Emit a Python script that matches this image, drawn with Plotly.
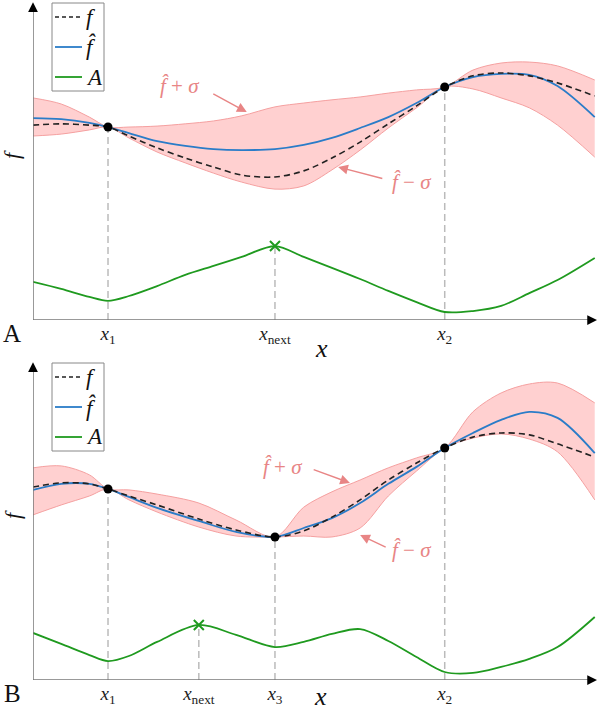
import plotly.graph_objects as go

# ---------------- Panel A data (x in [0,10], y in [0,10]) ----------------
x_A = [0, 0.5, 1.0, 1.33, 1.7, 2.2, 2.7, 3.2, 3.7, 4.29, 4.8, 5.3, 5.8, 6.3, 6.8, 7.30, 7.8, 8.3, 8.8, 9.3, 9.96]
f_A = [6.09, 6.13, 6.09, 6.03, 5.75, 5.38, 5.06, 4.78, 4.53, 4.47, 4.66, 5.06, 5.56, 6.13, 6.69, 7.28, 7.63, 7.72, 7.63, 7.41, 7.00]
fhat_A = [6.31, 6.28, 6.16, 6.03, 5.84, 5.59, 5.44, 5.34, 5.31, 5.34, 5.47, 5.69, 6.00, 6.34, 6.78, 7.28, 7.59, 7.69, 7.66, 7.31, 6.34]
upper_A = [6.94, 6.75, 6.34, 6.03, 6.03, 6.06, 6.13, 6.22, 6.38, 6.66, 6.78, 6.88, 6.97, 7.09, 7.19, 7.28, 7.81, 8.03, 8.06, 7.94, 7.50]
lower_A = [5.75, 5.81, 5.94, 6.03, 5.69, 5.25, 4.91, 4.59, 4.31, 4.09, 4.19, 4.69, 5.31, 6.00, 6.63, 7.28, 7.22, 6.94, 6.63, 6.09, 5.09]
acq_A = [1.19, 0.97, 0.72, 0.60, 0.75, 1.06, 1.41, 1.69, 1.97, 2.31, 1.97, 1.63, 1.28, 0.91, 0.56, 0.25, 0.28, 0.44, 0.84, 1.25, 1.94]
obs_x_A = [1.33, 7.30]
obs_y_A = [6.03, 7.28]
obs_lbl_A = ["<i>x</i><sub>1</sub>", "<i>x</i><sub>2</sub>"]
next_x_A = 4.29
next_y_A = 2.31

# ---------------- Panel B data ----------------
x_B = [0, 0.5, 1.0, 1.33, 1.7, 2.2, 2.94, 3.6, 4.29, 4.8, 5.3, 5.8, 6.3, 6.8, 7.30, 7.8, 8.3, 8.8, 9.3, 9.96]
f_B = [6.03, 6.16, 6.13, 5.97, 5.75, 5.47, 5.03, 4.69, 4.47, 4.66, 5.09, 5.63, 6.25, 6.78, 7.25, 7.59, 7.72, 7.66, 7.38, 6.97]
fhat_B = [5.94, 6.13, 6.13, 5.97, 5.72, 5.38, 4.97, 4.63, 4.47, 4.75, 5.06, 5.53, 6.13, 6.66, 7.25, 7.72, 8.13, 8.38, 8.19, 7.09]
upper_B = [6.63, 6.69, 6.41, 5.97, 5.94, 5.81, 5.53, 5.00, 4.47, 5.40, 5.88, 6.25, 6.63, 6.94, 7.25, 8.38, 8.97, 9.25, 9.28, 8.66]
lower_B = [5.16, 5.47, 5.75, 5.97, 5.63, 5.25, 4.78, 4.50, 4.47, 4.50, 4.47, 4.75, 5.75, 6.53, 7.25, 7.56, 7.69, 7.53, 7.13, 5.63]
acq_B = [1.47, 1.13, 0.78, 0.59, 0.75, 1.19, 1.72, 1.41, 1.03, 1.19, 1.44, 1.59, 1.22, 0.72, 0.25, 0.22, 0.41, 0.66, 1.03, 1.97]
obs_x_B = [1.33, 4.29, 7.30]
obs_y_B = [5.97, 4.47, 7.25]
obs_lbl_B = ["<i>x</i><sub>1</sub>", "<i>x</i><sub>3</sub>", "<i>x</i><sub>2</sub>"]
next_x_B = 2.94
next_y_B = 1.72
next_lbl = "<i>x</i><sub>next</sub>"

legend_names = ["<i>f</i>", "<i>f̂</i>", "<i>A</i>"]

SERIF = "Liberation Serif"
BLUE = "#2a7cc8"
GREEN = "#1f9a1f"
DASHC = "#222222"
BAND_LINE = "#f5a0a0"
BAND_FILL = "rgba(255,170,170,0.55)"
ANN = "#e88585"

# layout geometry (pixels)
W, H = 600, 713
ML, MR, MT, MB = 33, 3, 0, 33
PW, PH = W - ML - MR, H - MT - MB


def px(x):
    return (x - ML) / PW


def py(y):
    return (H - MB - y) / PH


fig = go.Figure()


def add_panel(xs, f, fhat, up, lo, acq, ox, oy, nx, ny, xa, ya):
    for xv, yv in list(zip(ox, oy)) + [(nx, ny)]:
        fig.add_trace(go.Scatter(x=[xv, xv], y=[0, yv], mode="lines",
                                 line=dict(color="#bbbbbb", width=1.5, dash="7px,4px"),
                                 xaxis=xa, yaxis=ya, showlegend=False, hoverinfo="skip"))
    fig.add_trace(go.Scatter(x=xs, y=up, mode="lines",
                             line=dict(color=BAND_LINE, width=1, shape="spline", smoothing=0.9),
                             xaxis=xa, yaxis=ya, showlegend=False, hoverinfo="skip"))
    fig.add_trace(go.Scatter(x=xs, y=lo, mode="lines",
                             line=dict(color=BAND_LINE, width=1, shape="spline", smoothing=0.9),
                             fill="tonexty", fillcolor=BAND_FILL,
                             xaxis=xa, yaxis=ya, showlegend=False, hoverinfo="skip"))
    fig.add_trace(go.Scatter(x=xs, y=fhat, mode="lines", name=legend_names[1],
                             line=dict(color=BLUE, width=1.8, shape="spline", smoothing=0.9),
                             xaxis=xa, yaxis=ya, showlegend=False))
    fig.add_trace(go.Scatter(x=xs, y=f, mode="lines", name=legend_names[0],
                             line=dict(color=DASHC, width=1.6, dash="6px,4px", shape="spline", smoothing=0.9),
                             xaxis=xa, yaxis=ya, showlegend=False))
    fig.add_trace(go.Scatter(x=xs, y=acq, mode="lines", name=legend_names[2],
                             line=dict(color=GREEN, width=1.8, shape="spline", smoothing=0.9),
                             xaxis=xa, yaxis=ya, showlegend=False))
    fig.add_trace(go.Scatter(x=ox, y=oy, mode="markers", marker=dict(color="black", size=9),
                             xaxis=xa, yaxis=ya, showlegend=False))
    fig.add_trace(go.Scatter(x=[nx], y=[ny], mode="markers",
                             marker=dict(symbol="x-thin", size=10, line=dict(color=GREEN, width=2)),
                             xaxis=xa, yaxis=ya, showlegend=False))


add_panel(x_A, f_A, fhat_A, upper_A, lower_A, acq_A, obs_x_A, obs_y_A, next_x_A, next_y_A, "x", "y")
add_panel(x_B, f_B, fhat_B, upper_B, lower_B, acq_B, obs_x_B, obs_y_B, next_x_B, next_y_B, "x2", "y2")

ax_common = dict(range=[0, 10], showgrid=False, zeroline=False, showline=False, ticks="", automargin=False,
                 tickfont=dict(family=SERIF, size=19, color="#222"))
ay_common = dict(range=[0, 10], showgrid=False, zeroline=False, showline=False, showticklabels=False,
                 automargin=False)

tvA = obs_x_A[:1] + [next_x_A] + obs_x_A[1:]
ttA = obs_lbl_A[:1] + [next_lbl] + obs_lbl_A[1:]
tvB = obs_x_B[:1] + [next_x_B] + obs_x_B[1:]
ttB = obs_lbl_B[:1] + [next_lbl] + obs_lbl_B[1:]

annotations = []
shapes = []
for xr, yr, panel_lbl, off in [("x", "y", "A", 0), ("x2", "y2", "B", 360)]:
    # axes with arrows
    shapes.append(dict(type="line", xref=xr, yref=yr, x0=0, y0=0, x1=9.9, y1=0, line=dict(color="#777", width=1.5)))
    shapes.append(dict(type="line", xref=xr, yref=yr, x0=0, y0=0, x1=0, y1=9.85, line=dict(color="#777", width=1.5)))
    annotations.append(dict(xref=xr, yref=yr, x=10, y=0, ax=-9, ay=0, text="", showarrow=True,
                            arrowhead=2, arrowsize=1.3, arrowwidth=1.5, arrowcolor="black"))
    annotations.append(dict(xref=xr, yref=yr, x=0, y=9.93, ax=0, ay=9, text="", showarrow=True,
                            arrowhead=2, arrowsize=1.3, arrowwidth=1.5, arrowcolor="black"))
    # panel letter, axis labels
    annotations.append(dict(xref="paper", yref="paper", x=px(12), y=py(333 + off), text=panel_lbl,
                            xanchor="center", yanchor="middle",
                            showarrow=False, font=dict(family=SERIF, size=25, color="#111")))
    if off == 0:
        annotations.append(dict(xref="paper", yref="paper", x=px(321), y=py(349), text="<i>x</i>",
                                xanchor="center", yanchor="middle",
                                showarrow=False, font=dict(family=SERIF, size=26, color="#111")))
    else:
        annotations.append(dict(xref="paper", yref="paper", x=px(320), y=py(713), yanchor="bottom",
                                xanchor="center",
                                text="<i>x</i>", showarrow=False, font=dict(family=SERIF, size=26, color="#111")))
    annotations.append(dict(xref="paper", yref="paper", x=px(12), y=py(155 + off), text="<i>f</i>",
                            xanchor="center", yanchor="middle",
                            showarrow=False, textangle=-90, font=dict(family=SERIF, size=22, color="#111")))
    # legend box
    shapes.append(dict(type="rect", xref="paper", yref="paper", x0=px(52), x1=px(104),
                       y0=py(3 + off), y1=py(91 + off), line=dict(color="#888", width=1), fillcolor="white",
                       layer="above"))
    styles = [dict(color=DASHC, width=1.6, dash="4px,3px"), dict(color=BLUE, width=1.8), dict(color=GREEN, width=1.8)]
    for i, (nm, st) in enumerate(zip(legend_names, styles)):
        yy = 17 + 30 * i + off
        shapes.append(dict(type="line", xref="paper", yref="paper", x0=px(55), x1=px(82), y0=py(yy), y1=py(yy),
                           line=st, layer="above"))
        annotations.append(dict(xref="paper", yref="paper", x=px(84), y=py(yy), xanchor="left", yanchor="middle",
                                text=nm, showarrow=False, font=dict(family=SERIF, size=23, color="#111")))

# sigma annotations: (text pos, arrow tail, arrow tip), data units
sig = [
    ("x", "y", "<i>f̂</i> + <i>σ</i>", (2.61, 7.31), (3.17, 7.09), (3.79, 6.50)),
    ("x", "y", "<i>f̂</i> − <i>σ</i>", (6.72, 4.31), (6.22, 4.41), (5.41, 4.78)),
    ("x2", "y2", "<i>f̂</i> + <i>σ</i>", (4.43, 6.66), (4.95, 6.59), (5.62, 6.16)),
    ("x2", "y2", "<i>f̂</i> − <i>σ</i>", (6.72, 4.06), (6.28, 4.13), (5.80, 4.53)),
]
for xr, yr, txt, tpos, tail, tip in sig:
    annotations.append(dict(xref=xr, yref=yr, x=tpos[0], y=tpos[1], text=txt, showarrow=False,
                            xanchor="center", yanchor="middle",
                            font=dict(family=SERIF, size=21, color=ANN)))
    annotations.append(dict(xref=xr, yref=yr, x=tip[0], y=tip[1], ax=tail[0], ay=tail[1], axref=xr, ayref=yr,
                            text="", showarrow=True, arrowhead=2, arrowsize=1.4, arrowwidth=1.4, arrowcolor=ANN))

fig.update_layout(
    width=W, height=H,
    margin=dict(l=ML, r=MR, t=MT, b=MB, autoexpand=False),
    paper_bgcolor="white", plot_bgcolor="white",
    showlegend=False,
    xaxis=dict(domain=[0, 1], anchor="y", tickvals=tvA, ticktext=ttA, **ax_common),
    yaxis=dict(domain=[1 - 320 / PH, 1], anchor="x", **ay_common),
    xaxis2=dict(domain=[0, 1], anchor="y2", tickvals=tvB, ticktext=ttB, **ax_common),
    yaxis2=dict(domain=[0, 320 / PH], anchor="x2", **ay_common),
    annotations=annotations,
    shapes=shapes,
)

fig.write_html("out.html", config={"displayModeBar": False},
               post_script="document.body.style.margin='0';document.body.style.padding='0';")
